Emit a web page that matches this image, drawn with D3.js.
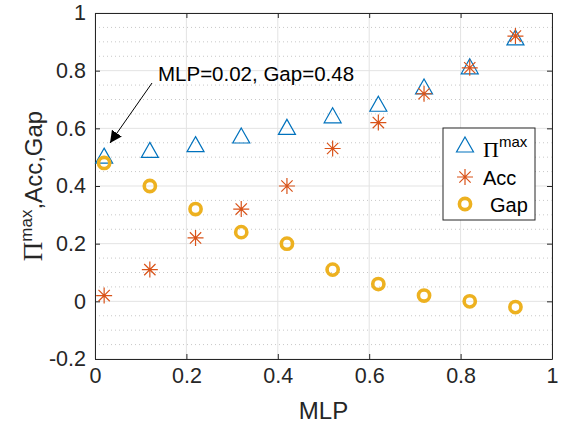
<!DOCTYPE html>
<html><head><meta charset="utf-8">
<script src="https://cdn.jsdelivr.net/npm/d3@7"></script>
<style>body{margin:0;background:#fff}svg{display:block;font-family:"Liberation Sans",Arial,sans-serif}</style>
</head><body><svg id="c" width="565" height="430"></svg>
<script>
const mlp = [0.02,0.12,0.22,0.32,0.42,0.52,0.62,0.72,0.82,0.92];
const piMax = [0.50,0.52,0.54,0.57,0.60,0.64,0.68,0.74,0.81,0.91];
const acc = [0.02,0.11,0.22,0.32,0.40,0.53,0.62,0.72,0.81,0.92];
const gap = [0.48,0.40,0.32,0.24,0.20,0.11,0.06,0.02,0.00,-0.02];
const xTicks = [0,0.2,0.4,0.6,0.8,1];
const yTicks = [-0.2,0,0.2,0.4,0.6,0.8,1];
const yMinor = d3.range(-0.15,1.0,0.05).map(v=>+v.toFixed(2)).filter(v=>Math.abs(Math.round(v*5)-v*5)>1e-6);

const svg = d3.select("#c");
const L=95,R=552,T=13,B=359;
const x = d3.scaleLinear().domain([0,1]).range([L,R]);
const y = d3.scaleLinear().domain([-0.2,1]).range([B,T]);
const g = svg.append("g");

g.selectAll(".mn").data(yMinor).enter().append("line")
 .attr("x1",L).attr("x2",R).attr("y1",d=>y(d)).attr("y2",d=>y(d))
 .attr("stroke","#c8c8c8").attr("stroke-width",1).attr("stroke-dasharray","1,3");
g.selectAll(".gx").data(xTicks).enter().append("line")
 .attr("x1",d=>x(d)).attr("x2",d=>x(d)).attr("y1",T).attr("y2",B)
 .attr("stroke","#e3e3e3").attr("stroke-width",1);
g.selectAll(".gy").data(yTicks).enter().append("line")
 .attr("x1",L).attr("x2",R).attr("y1",d=>y(d)).attr("y2",d=>y(d))
 .attr("stroke","#e3e3e3").attr("stroke-width",1);

const fmt = d=> d===0?"0":(d===1?"1":(d<0?"-":"")+d3.format(".1f")(Math.abs(d)));
const ax = svg.append("g").attr("transform",`translate(0,${B})`)
 .call(d3.axisBottom(x).tickValues(xTicks).tickFormat(fmt).tickSizeInner(-5).tickSizeOuter(0).tickPadding(9));
const ay = svg.append("g").attr("transform",`translate(${L},0)`)
 .call(d3.axisLeft(y).tickValues(yTicks).tickFormat(fmt).tickSizeInner(-5).tickSizeOuter(0).tickPadding(9));
const axT = svg.append("g").attr("transform",`translate(0,${T})`)
 .call(d3.axisTop(x).tickValues(xTicks).tickFormat("").tickSizeInner(-5).tickSizeOuter(0));
const ayR = svg.append("g").attr("transform",`translate(${R},0)`)
 .call(d3.axisRight(y).tickValues(yTicks).tickFormat("").tickSizeInner(-5).tickSizeOuter(0));
[ax,ay,axT,ayR].forEach(a=>{
 a.selectAll("path").attr("stroke","#262626").attr("stroke-width",1);
 a.selectAll("line").attr("stroke","#262626");
 a.selectAll("text").attr("fill","#262626").attr("font-size",21.5).attr("font-family","Liberation Sans, Arial, sans-serif");
});

const blue="#0072BD", orange="#D95319", yellow="#EDB120";
const triPath = (cx,cy)=>`M${cx},${cy-9}L${cx+8.5},${cy+6}L${cx-8.5},${cy+6}Z`;
const starPath = (cx,cy,r)=>{let p="";for(let i=0;i<4;i++){const a=i*Math.PI/4;p+=`M${cx-r*Math.cos(a)},${cy-r*Math.sin(a)}L${cx+r*Math.cos(a)},${cy+r*Math.sin(a)}`;}return p;};

svg.append("g").selectAll("path").data(mlp).enter().append("path")
 .attr("d",(d,i)=>triPath(x(d),y(piMax[i]))).attr("fill","none").attr("stroke",blue).attr("stroke-width",1.2);
svg.append("g").selectAll("path").data(mlp).enter().append("path")
 .attr("d",(d,i)=>starPath(x(d),y(acc[i]),8)).attr("fill","none").attr("stroke",orange).attr("stroke-width",1.2);
svg.append("g").selectAll("circle").data(mlp).enter().append("circle")
 .attr("cx",d=>x(d)).attr("cy",(d,i)=>y(gap[i])).attr("r",5.6).attr("fill","none").attr("stroke",yellow).attr("stroke-width",3.6);

svg.append("defs").append("marker").attr("id","ah").attr("viewBox","0 0 10 10").attr("refX",10).attr("refY",5)
 .attr("markerWidth",12).attr("markerHeight",12).attr("markerUnits","userSpaceOnUse").attr("orient","auto")
 .append("path").attr("d","M0,0L10,5L0,10Z").attr("fill","#000");
svg.append("line").attr("x1",152).attr("y1",83).attr("x2",110).attr("y2",143)
 .attr("stroke","#000").attr("stroke-width",1).attr("marker-end","url(#ah)");
svg.append("text").attr("x",158).attr("y",81).attr("font-size",20.5).attr("fill","#000").text("MLP=0.02, Gap=0.48");

svg.append("text").attr("x",(L+R)/2).attr("y",419).attr("text-anchor","middle").attr("font-size",24).attr("fill","#262626").text("MLP");
const yl = svg.append("text").attr("transform",`translate(42,${(T+B)/2}) rotate(-90)`).attr("text-anchor","middle").attr("font-size",24).attr("fill","#262626");
yl.append("tspan").attr("font-family","Liberation Serif, Times New Roman, serif").attr("font-size",27).text("\u03A0");
yl.append("tspan").attr("dy",-10).attr("font-size",17).text("max");
yl.append("tspan").attr("dy",10).text(",Acc,Gap");

const lg = svg.append("g");
lg.append("rect").attr("x",443).attr("y",128).attr("width",92).attr("height",92).attr("fill","#fff").attr("stroke","#262626").attr("stroke-width",1);
const lx = 465, ly = [146,177,204];
lg.append("path").attr("d",triPath(lx,ly[0])).attr("fill","none").attr("stroke",blue).attr("stroke-width",1.2);
lg.append("path").attr("d",starPath(lx,ly[1],8)).attr("fill","none").attr("stroke",orange).attr("stroke-width",1.2);
lg.append("circle").attr("cx",lx).attr("cy",ly[2]).attr("r",5.6).attr("fill","none").attr("stroke",yellow).attr("stroke-width",3.6);
const t1 = lg.append("text").attr("x",483).attr("y",157).attr("font-size",19).attr("fill","#000");
t1.append("tspan").attr("font-family","Liberation Serif, Times New Roman, serif").attr("font-size",22).text("\u03A0");
t1.append("tspan").attr("dy",-10).attr("font-size",15).text("max");
lg.append("text").attr("x",483).attr("y",185).attr("font-size",20).attr("fill","#000").text("Acc");
lg.append("text").attr("x",490).attr("y",212).attr("font-size",20).attr("fill","#000").text("Gap");
</script></body></html>
